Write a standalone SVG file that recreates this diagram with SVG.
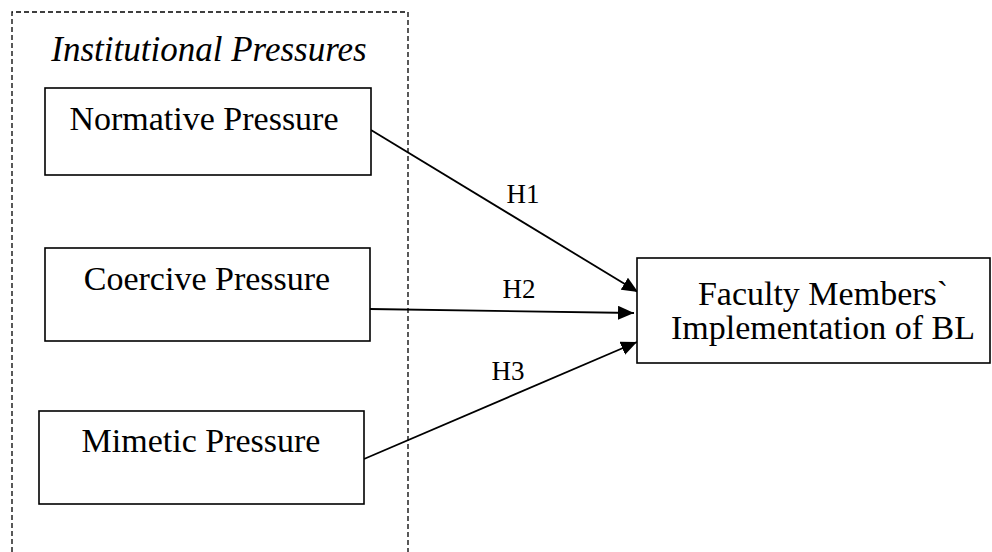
<svg xmlns="http://www.w3.org/2000/svg" width="992" height="552" viewBox="0 0 992 552">
  <style>
    .box { fill: #ffffff; stroke: #000000; stroke-width: 1.6; }
    .lbl { font-size: 34px; fill: #000000; text-anchor: middle; }
    .title { font-size: 35px; font-style: italic; fill: #000000; text-anchor: middle; }
    .hyp { font-size: 27px; fill: #000000; text-anchor: middle; }
    .edge { stroke: #000000; stroke-width: 1.8; fill: none; marker-end: url(#arrow); }
    .group { fill: none; stroke: #000000; stroke-width: 1.3; stroke-dasharray: 5 3; }
  </style>
  <defs>
    <marker id="arrow" markerUnits="userSpaceOnUse" markerWidth="18" markerHeight="14" refX="16" refY="7" orient="auto">
      <path d="M0,0 L16,7 L0,14 Z" fill="#000000"/>
    </marker>
  </defs>
  <rect width="992" height="552" fill="#ffffff"/>

  <g font-family="'Liberation Serif', 'DejaVu Serif', serif">
  <g id="institutional-pressures">
    <path class="group" d="M12,560 L12,12 L408,12 L408,560"/>
    <text class="title" x="209" y="61">Institutional Pressures</text>
  </g>

  <g id="connectors">
    <line class="edge" x1="371" y1="130" x2="638" y2="292"/>
    <line class="edge" x1="370" y1="309" x2="634" y2="313"/>
    <line class="edge" x1="364" y1="459" x2="637" y2="342"/>
    <text class="hyp" x="523" y="203">H1</text>
    <text class="hyp" x="519" y="298">H2</text>
    <text class="hyp" x="508" y="380">H3</text>
  </g>

  <g id="normative">
    <rect class="box" x="45" y="88" width="326" height="87"/>
    <text class="lbl" x="204" y="130">Normative Pressure</text>
  </g>

  <g id="coercive">
    <rect class="box" x="45" y="248" width="325" height="93"/>
    <text class="lbl" x="207" y="290">Coercive Pressure</text>
  </g>

  <g id="mimetic">
    <rect class="box" x="39" y="411" width="325" height="93"/>
    <text class="lbl" x="201" y="452">Mimetic Pressure</text>
  </g>

  <g id="implementation">
    <rect class="box" x="637" y="258" width="353" height="105"/>
    <text class="lbl" x="823" y="305">Faculty Members`</text>
    <text class="lbl" x="823" y="339">Implementation of BL</text>
  </g>
  </g>
</svg>
